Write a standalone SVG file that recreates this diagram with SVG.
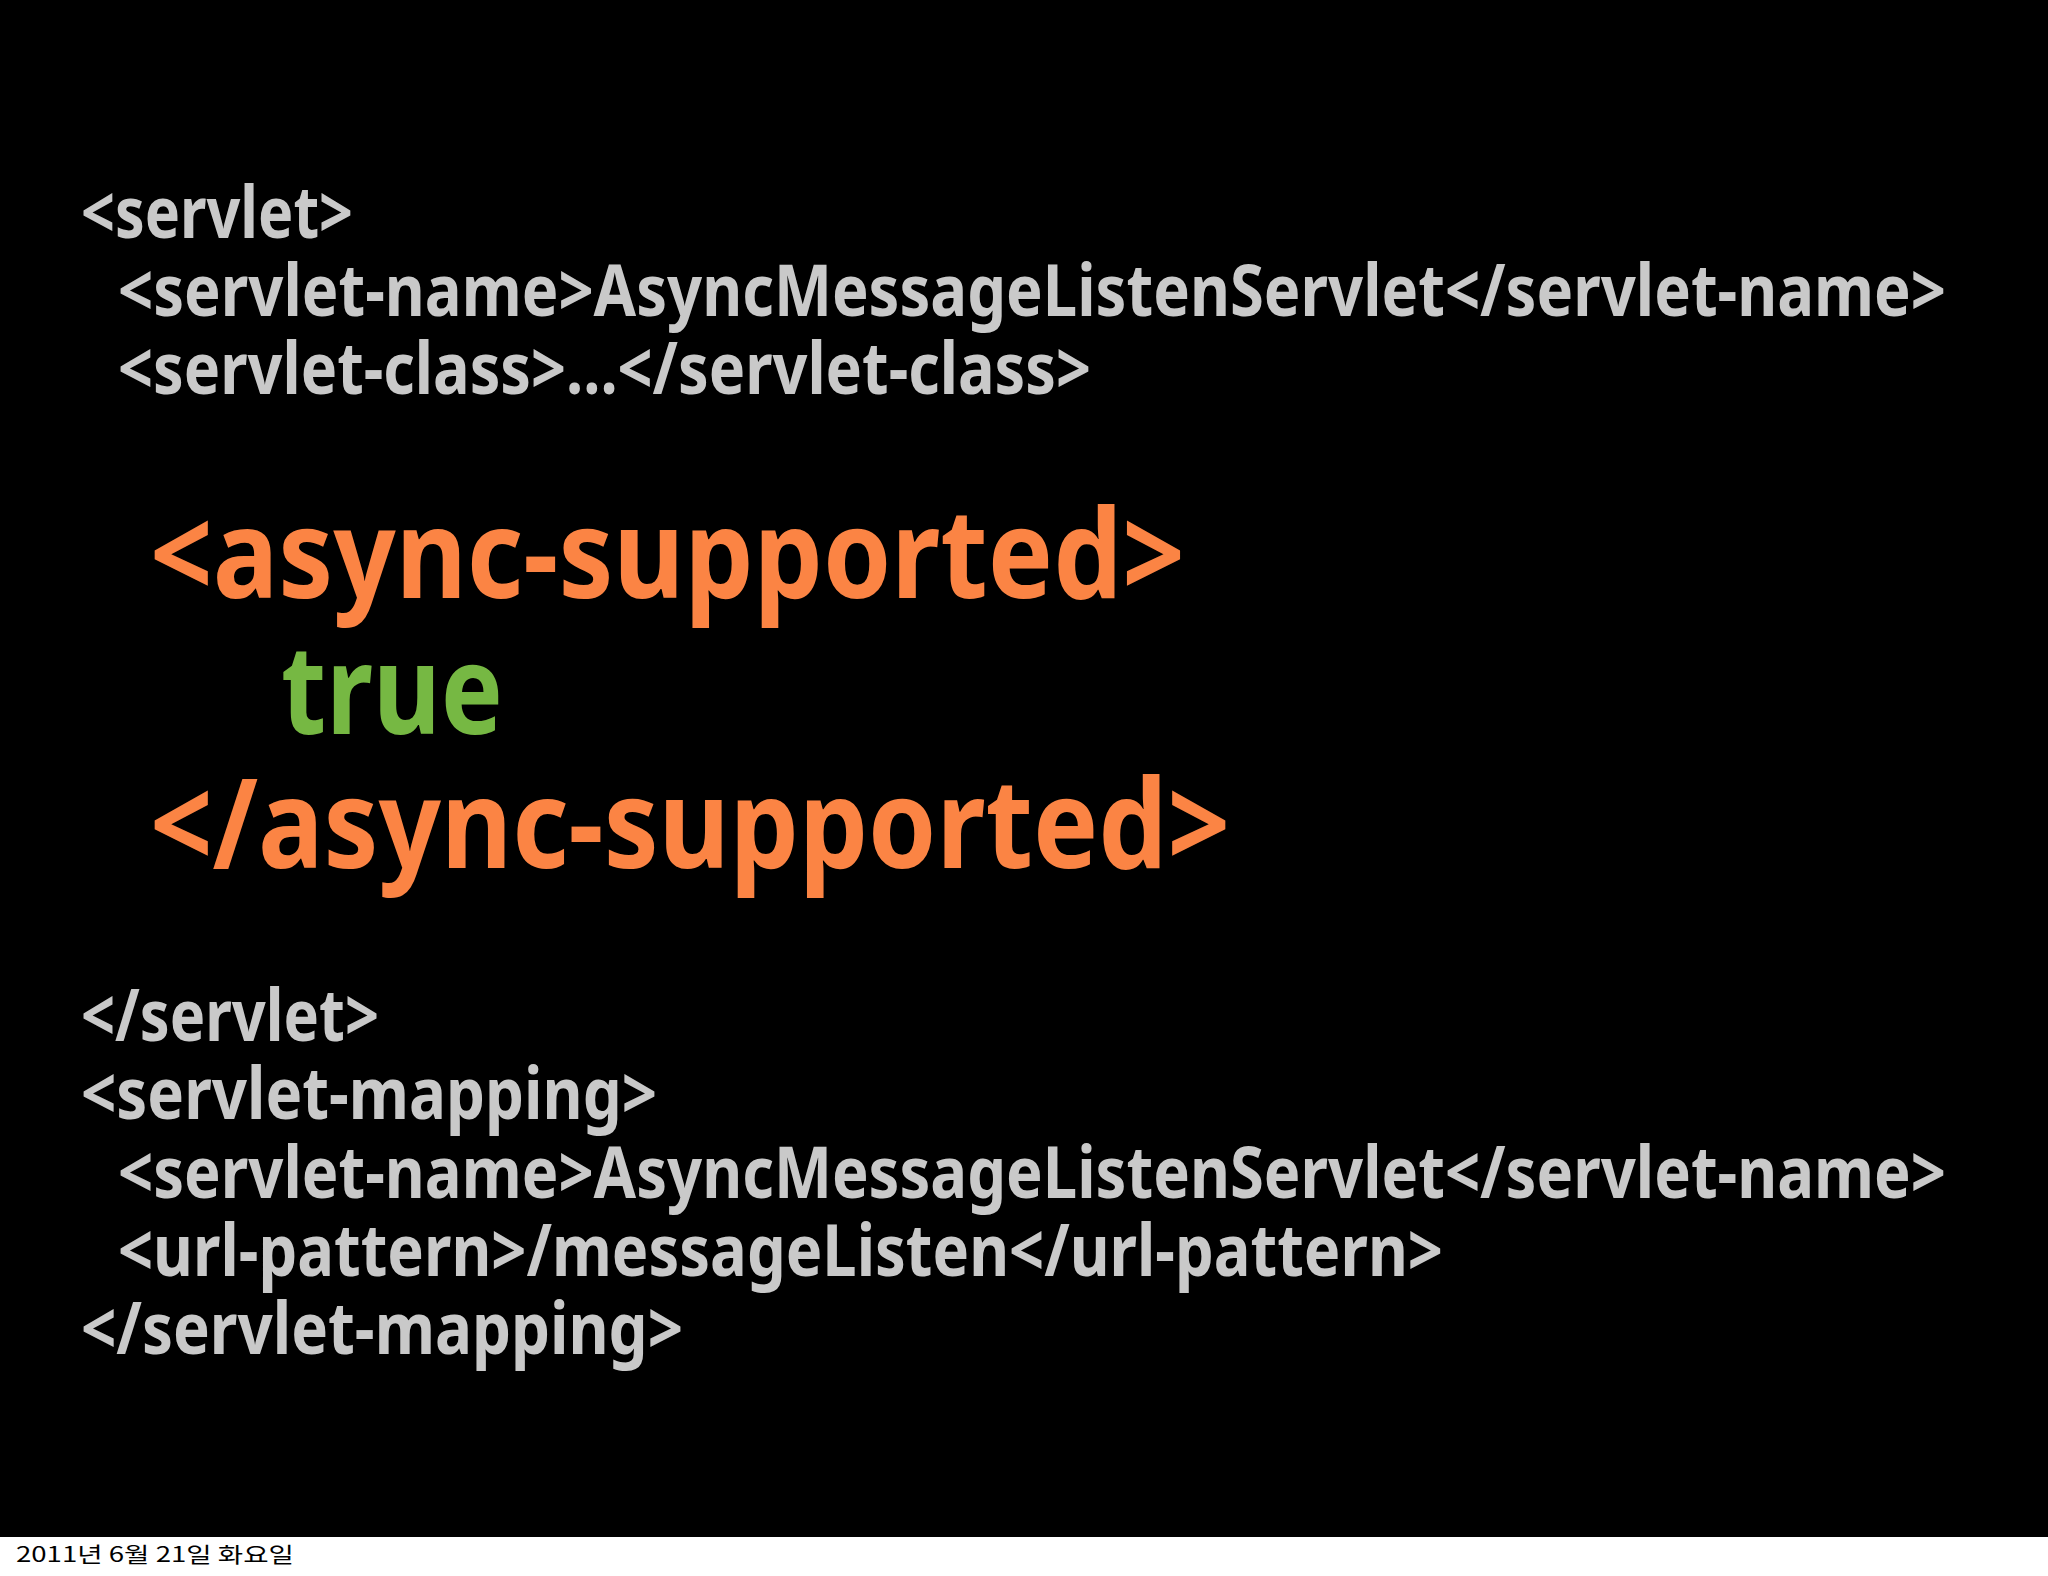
<svg xmlns="http://www.w3.org/2000/svg" width="2048" height="1576" viewBox="0 0 2048 1576">
<style>
.g{fill:#c9c9c9;font-family:"Noto Sans","Noto Sans CJK KR",sans-serif;font-weight:bold;font-size:72px}
.o{fill:#fb8444;font-family:"Noto Sans","Noto Sans CJK KR",sans-serif;font-weight:bold;font-size:124px}
.t{fill:#76b843;font-family:"Noto Sans","Noto Sans CJK KR",sans-serif;font-weight:bold;font-size:124px}
.f{fill:#000;font-family:"Noto Sans CJK KR",sans-serif;font-size:21px}
</style>
<rect width="2048" height="1576" fill="#fff"/>
<rect width="2048" height="1537" fill="#000"/>
<g id="code">
<text class="g" x="81" y="238" textLength="272" lengthAdjust="spacingAndGlyphs">&lt;servlet&gt;</text>
<text class="g" x="118" y="316" textLength="1828" lengthAdjust="spacingAndGlyphs">&lt;servlet-name&gt;AsyncMessageListenServlet&lt;/servlet-name&gt;</text>
<text class="g" x="118" y="394" textLength="973" lengthAdjust="spacingAndGlyphs">&lt;servlet-class&gt;...&lt;/servlet-class&gt;</text>
<text class="o" x="150" y="598" textLength="1035" lengthAdjust="spacingAndGlyphs">&lt;async-supported&gt;</text>
<text class="t" x="281" y="734" textLength="222" lengthAdjust="spacingAndGlyphs">true</text>
<text class="o" x="150" y="868" textLength="1080" lengthAdjust="spacingAndGlyphs">&lt;/async-supported&gt;</text>
<text class="g" x="81" y="1041" textLength="298" lengthAdjust="spacingAndGlyphs">&lt;/servlet&gt;</text>
<text class="g" x="81" y="1119" textLength="576" lengthAdjust="spacingAndGlyphs">&lt;servlet-mapping&gt;</text>
<text class="g" x="118" y="1198" textLength="1828" lengthAdjust="spacingAndGlyphs">&lt;servlet-name&gt;AsyncMessageListenServlet&lt;/servlet-name&gt;</text>
<text class="g" x="118" y="1276" textLength="1325" lengthAdjust="spacingAndGlyphs">&lt;url-pattern&gt;/messageListen&lt;/url-pattern&gt;</text>
<text class="g" x="81" y="1354" textLength="602" lengthAdjust="spacingAndGlyphs">&lt;/servlet-mapping&gt;</text>
</g>
<g id="footer">
<text class="f" x="16" y="1562" textLength="278" lengthAdjust="spacingAndGlyphs">2011년 6월 21일 화요일</text>
</g>
</svg>
